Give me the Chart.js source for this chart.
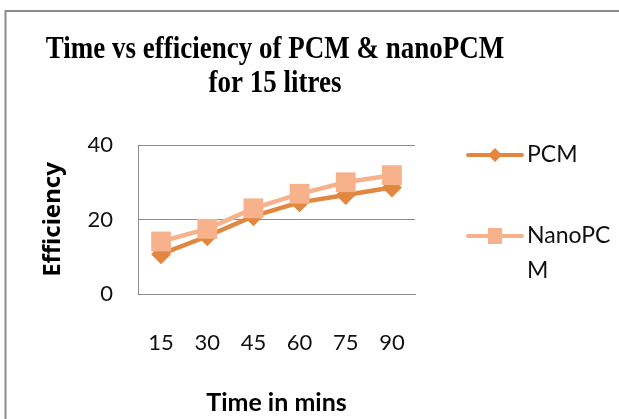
<!DOCTYPE html>
<html>
<head>
<meta charset="utf-8">
<script src="https://cdn.jsdelivr.net/npm/chart.js@4/dist/chart.umd.min.js"></script>
<style>
html,body{margin:0;padding:0;background:#fff;}
#wrap{width:619px;height:419px;position:relative;}
</style>
</head>
<body>
<div id="wrap"><canvas id="c" width="619" height="419"></canvas></div>
<script>
// ---- data ----
const titleLines = ['Time vs efficiency of PCM & nanoPCM', 'for 15 litres'];
const categories = ['15', '30', '45', '60', '75', '90'];
const seriesNames = ['PCM', 'NanoPCM'];
const pcmValues = [10.7, 15.5, 20.9, 24.6, 26.6, 28.6];
const nanoValues = [14.1, 17.5, 23.0, 26.9, 30.0, 31.9];
const yTicks = [0, 20, 40];
const xTitle = 'Time in mins';
const yTitle = 'Efficiency';

const colPCM = '#E2873F';
const colNano = '#F7B28B';
const gridCol = '#8c8c8c';
const sansFont = 'Lato';

const borderPlugin = {
  id: 'outerBorder',
  beforeDraw(chart) {
    const ctx = chart.ctx;
    ctx.save();
    ctx.fillStyle = '#fff';
    ctx.fillRect(0, 0, chart.width, chart.height);
    ctx.strokeStyle = '#8a8a8a';
    ctx.lineWidth = 2;
    ctx.strokeRect(5.5, 11, 800, 600);
    ctx.restore();
  }
};

const titlePlugin = {
  id: 'tallTitle',
  afterDraw(chart) {
    const ctx = chart.ctx;
    const baselines = [58, 92];
    ctx.save();
    ctx.fillStyle = '#000';
    ctx.font = 'bold 27px "Liberation Serif"';
    ctx.textAlign = 'center';
    ctx.textBaseline = 'alphabetic';
    titleLines.forEach((t, i) => {
      ctx.save();
      ctx.translate(275, baselines[i]);
      ctx.scale(1, 1.17);
      ctx.fillText(t, 0, 0);
      ctx.restore();
    });
    ctx.restore();
  }
};

const legendPlugin = {
  id: 'sideLegend',
  afterDraw(chart) {
    const ctx = chart.ctx;
    const ys = [155, 236];
    const lineX0 = 468, lineX1 = 522, textX = 527, maxW = 90;
    ctx.save();
    ctx.font = '23px ' + sansFont;
    chart.data.datasets.forEach((ds, i) => {
      const y = ys[i];
      ctx.strokeStyle = ds.borderColor;
      ctx.lineWidth = 4;
      ctx.lineCap = 'round';
      ctx.beginPath();
      ctx.moveTo(lineX0, y);
      ctx.lineTo(lineX1, y);
      ctx.stroke();
      ctx.fillStyle = ds.backgroundColor;
      const cx = (lineX0 + lineX1) / 2;
      ctx.beginPath();
      if (ds.pointStyle === 'rectRot') {
        ctx.moveTo(cx, y - 7); ctx.lineTo(cx + 7, y); ctx.lineTo(cx, y + 7); ctx.lineTo(cx - 7, y);
        ctx.closePath();
      } else {
        ctx.rect(cx - 7, y - 8, 14, 16);
      }
      ctx.fill();
      const lines = [];
      let cur = '';
      for (const ch of ds.label) {
        if (ctx.measureText(cur + ch).width > maxW && cur) { lines.push(cur); cur = ch; }
        else cur += ch;
      }
      lines.push(cur);
      ctx.fillStyle = '#111';
      ctx.textAlign = 'left';
      ctx.textBaseline = 'middle';
      lines.forEach((t, k) => ctx.fillText(t, textX, y + k * 35));
    });
    ctx.restore();
  }
};

new Chart(document.getElementById('c'), {
  type: 'line',
  data: {
    labels: categories,
    datasets: [
      {
        label: seriesNames[0],
        data: pcmValues,
        borderColor: colPCM,
        backgroundColor: colPCM,
        borderWidth: 4.5,
        pointStyle: 'rectRot',
        pointRadius: 10,
        pointBorderWidth: 0,
        tension: 0,
        order: 2
      },
      {
        label: seriesNames[1],
        data: nanoValues,
        borderColor: colNano,
        backgroundColor: colNano,
        borderWidth: 4.5,
        pointStyle: 'rect',
        pointRadius: 14,
        pointBorderWidth: 0,
        tension: 0,
        order: 1
      }
    ]
  },
  options: {
    responsive: false,
    animation: false,
    devicePixelRatio: 1,
    layout: { padding: { left: 0, right: 204, top: 145, bottom: 0 } },
    plugins: {
      legend: { display: false },
      tooltip: { enabled: false },
      title: { display: false }
    },
    scales: {
      x: {
        type: 'category',
        offset: true,
        afterFit(s) { s.height = 125; },
        grid: { display: false, drawTicks: false },
        border: { display: true, color: gridCol, width: 1 },
        ticks: { color: '#111', padding: 36, font: { family: sansFont, size: 22 } },
        title: {
          display: true, text: xTitle, color: '#000',
          font: { family: sansFont, size: 25, weight: 'bold' },
          padding: { top: 0, bottom: 1 }
        }
      },
      y: {
        min: 0, max: 40,
        afterFit(s) { s.width = 138; },
        afterBuildTicks(s) { s.ticks = yTicks.map(v => ({ value: v })); },
        grid: { color: gridCol, lineWidth: 1, drawTicks: false },
        border: { display: true, color: gridCol, width: 1 },
        ticks: { color: '#111', padding: 25, font: { family: sansFont, size: 22 } },
        title: {
          display: true, text: yTitle, color: '#000',
          font: { family: 'Noto Sans', size: 24, weight: 'bold' },
          padding: { top: 39, bottom: 0 }
        }
      }
    }
  },
  plugins: [borderPlugin, titlePlugin, legendPlugin]
});
</script>
</body>
</html>
